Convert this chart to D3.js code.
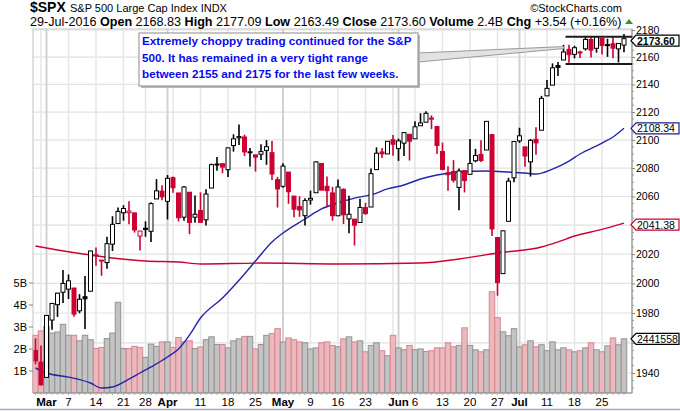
<!DOCTYPE html>
<html lang="en">
<head>
<meta charset="UTF-8">
<title>$SPX S&amp;P 500 Large Cap Index</title>
<script src="https://cdn.jsdelivr.net/npm/d3@7/dist/d3.min.js"></script>
<style>
  body { margin: 0; background: #fff; }
  svg { display: block; font-family: "Liberation Sans", Arial, sans-serif; }
</style>
</head>
<body>
<svg width="680" height="411"></svg>
<script>
// trading days on the chart
const dates = [
  "2016-02-26","2016-02-29",
  "2016-03-01","2016-03-02","2016-03-03","2016-03-04",
  "2016-03-07","2016-03-08","2016-03-09","2016-03-10","2016-03-11",
  "2016-03-14","2016-03-15","2016-03-16","2016-03-17","2016-03-18",
  "2016-03-21","2016-03-22","2016-03-23","2016-03-24",
  "2016-03-28","2016-03-29","2016-03-30","2016-03-31","2016-04-01",
  "2016-04-04","2016-04-05","2016-04-06","2016-04-07","2016-04-08",
  "2016-04-11","2016-04-12","2016-04-13","2016-04-14","2016-04-15",
  "2016-04-18","2016-04-19","2016-04-20","2016-04-21","2016-04-22",
  "2016-04-25","2016-04-26","2016-04-27","2016-04-28","2016-04-29",
  "2016-05-02","2016-05-03","2016-05-04","2016-05-05","2016-05-06",
  "2016-05-09","2016-05-10","2016-05-11","2016-05-12","2016-05-13",
  "2016-05-16","2016-05-17","2016-05-18","2016-05-19","2016-05-20",
  "2016-05-23","2016-05-24","2016-05-25","2016-05-26","2016-05-27",
  "2016-05-31","2016-06-01","2016-06-02","2016-06-03",
  "2016-06-06","2016-06-07","2016-06-08","2016-06-09","2016-06-10",
  "2016-06-13","2016-06-14","2016-06-15","2016-06-16","2016-06-17",
  "2016-06-20","2016-06-21","2016-06-22","2016-06-23","2016-06-24",
  "2016-06-27","2016-06-28","2016-06-29","2016-06-30","2016-07-01",
  "2016-07-05","2016-07-06","2016-07-07","2016-07-08",
  "2016-07-11","2016-07-12","2016-07-13","2016-07-14","2016-07-15",
  "2016-07-18","2016-07-19","2016-07-20","2016-07-21","2016-07-22",
  "2016-07-25","2016-07-26","2016-07-27","2016-07-28","2016-07-29"
];

const open = [
  1954.95,1947.13,
  1937.09,1975.25,1985.60,1994.01,
  1996.11,1996.88,1981.44,1990.97,1994.71,
  2019.27,2015.27,2014.24,2026.90,2041.16,
  2048.64,2048.64,2048.55,2032.48,
  2037.89,2035.75,2058.27,2063.77,2056.62,
  2073.19,2062.50,2045.56,2063.01,2045.54,
  2050.23,2043.72,2065.92,2082.89,2083.10,
  2078.83,2096.05,2101.52,2102.09,2091.49,
  2089.37,2089.84,2092.57,2090.93,2071.82,
  2067.17,2077.18,2060.30,2052.95,2046.61,
  2057.55,2062.63,2083.29,2067.17,2062.50,
  2046.53,2065.04,2044.38,2044.21,2041.88,
  2052.23,2052.65,2078.93,2091.44,2090.06,
  2100.13,2093.94,2097.71,2104.07,
  2100.83,2110.18,2112.71,2115.65,2109.57,
  2091.75,2076.65,2077.60,2066.36,2078.20,
  2075.58,2085.19,2089.75,2092.80,2103.81,
  2031.45,2006.67,2042.69,2073.17,2099.34,
  2095.05,2084.43,2100.42,2106.97,
  2131.72,2139.50,2153.81,2157.88,2165.71,
  2162.04,2163.79,2166.10,2172.91,2166.47,
  2173.71,2168.97,2169.81,2166.05,2168.83
];

const high = [
  1962.96,1958.27,
  1978.35,1986.51,1993.69,2009.13,
  2006.12,1996.88,1992.69,2005.08,2022.37,
  2024.57,2015.94,2032.02,2046.24,2052.36,
  2053.91,2056.60,2048.55,2036.04,
  2042.67,2055.91,2072.21,2067.92,2075.07,
  2074.02,2062.50,2067.33,2063.01,2060.63,
  2062.93,2065.05,2083.18,2087.84,2083.22,
  2094.66,2104.05,2111.05,2103.78,2094.32,
  2089.37,2096.87,2099.89,2099.30,2073.85,
  2083.42,2077.18,2060.30,2060.23,2058.79,
  2064.15,2084.87,2083.29,2073.99,2066.79,
  2071.88,2065.69,2060.61,2044.21,2058.35,
  2055.58,2079.67,2094.73,2094.30,2099.06,
  2103.48,2100.97,2105.26,2104.07,
  2113.36,2119.22,2120.55,2117.64,2109.57,
  2098.12,2081.30,2085.65,2079.62,2078.20,
  2100.66,2093.66,2099.71,2113.32,2103.81,
  2031.45,2036.09,2073.13,2098.94,2108.71,
  2095.05,2100.72,2109.08,2131.71,
  2143.16,2155.40,2156.45,2169.05,2169.05,
  2168.35,2164.63,2175.63,2174.56,2175.11,
  2173.71,2173.54,2174.98,2170.23,2177.09
];

const low = [
  1945.78,1931.81,
  1937.09,1968.80,1977.37,1986.77,
  1989.38,1977.43,1979.84,1969.25,1994.71,
  2012.05,2005.23,2010.04,2022.16,2041.16,
  2043.14,2040.57,2034.86,2022.49,
  2031.96,2028.31,2058.27,2057.46,2043.98,
  2062.57,2042.56,2043.09,2033.80,2041.69,
  2041.88,2039.74,2065.92,2078.13,2076.31,
  2073.65,2091.68,2096.32,2088.52,2081.20,
  2077.52,2085.80,2082.31,2071.62,2052.28,
  2066.11,2054.89,2045.55,2045.77,2039.74,
  2054.31,2062.63,2064.46,2053.13,2043.13,
  2046.53,2040.82,2034.49,2025.91,2041.88,
  2047.26,2052.65,2078.93,2087.08,2090.06,
  2088.66,2085.10,2088.59,2085.36,
  2100.83,2110.18,2112.71,2107.73,2089.96,
  2078.46,2064.10,2069.80,2050.37,2062.84,
  2075.58,2084.12,2084.36,2092.80,2032.57,
  1991.68,2006.67,2042.69,2070.00,2097.90,
  2080.86,2074.02,2089.39,2106.97,
  2131.72,2139.50,2146.21,2157.88,2155.79,
  2159.07,2159.39,2164.89,2159.75,2163.24,
  2161.95,2160.18,2159.07,2156.08,2163.49
];

const close = [
  1948.05,1932.23,
  1978.35,1986.45,1993.40,1999.99,
  2001.76,1979.26,1989.26,1989.57,2022.19,
  2019.64,2015.93,2027.22,2040.59,2049.58,
  2051.60,2049.80,2036.71,2035.94,
  2037.05,2055.01,2063.95,2059.74,2072.78,
  2066.13,2045.17,2066.66,2041.91,2047.60,
  2041.99,2061.72,2082.42,2082.78,2080.73,
  2094.34,2100.80,2102.40,2091.48,2091.58,
  2087.79,2091.70,2095.15,2075.81,2065.30,
  2081.43,2063.37,2051.12,2050.63,2057.14,
  2058.69,2084.39,2064.46,2064.11,2046.61,
  2066.66,2047.21,2047.63,2040.04,2052.32,
  2048.04,2076.06,2090.54,2090.10,2099.06,
  2096.95,2099.33,2105.26,2099.13,
  2109.41,2112.13,2119.12,2115.48,2096.07,
  2079.06,2075.32,2071.50,2077.99,2071.22,
  2083.25,2088.90,2085.45,2113.32,2037.41,
  2000.54,2036.09,2070.77,2098.86,2102.95,
  2088.55,2099.73,2097.90,2129.90,
  2137.16,2152.14,2152.43,2163.75,2161.74,
  2166.89,2163.78,2173.02,2165.17,2175.03,
  2168.48,2169.18,2166.58,2170.06,2173.60
];

// close of the day before the first bar (sets the first bar's colour)
const closeBefore = 1951.70;

// volume, billions of shares
const volume = [
  2.6,2.8,
  3.0,2.7,2.75,3.1,
  2.6,2.6,2.35,2.6,2.4,
  2.0,2.05,2.45,2.7,4.1,
  2.0,2.0,2.1,2.05,
  1.6,2.2,2.1,2.3,2.3,
  2.05,2.5,2.3,2.35,2.0,
  2.07,2.4,2.53,2.18,2.18,
  2.03,2.35,2.44,2.55,2.55,
  1.98,2.18,2.6,2.68,2.9,
  2.3,2.48,2.4,2.3,2.26,
  1.98,2.03,2.26,2.3,2.14,
  2.08,2.44,2.53,2.3,2.35,
  1.85,2.14,2.26,1.9,1.67,
  2.6,2.03,1.94,2.14,
  1.95,1.98,1.86,1.9,2.03,
  2.03,2.26,2.08,2.14,2.94,
  2.14,1.94,1.85,1.94,4.58,
  3.4,2.76,2.58,2.9,2.08,
  2.17,2.35,2.08,2.17,
  1.9,2.3,1.94,2.03,1.94,
  1.85,1.9,2.03,2.26,1.94,
  1.85,2.12,2.48,2.17,2.44
];
// last volume as printed in its tag
const lastVolumeLabel = "2441558";

// moving averages
const sma50 = [
  ["2016-02-26",1943.3],["2016-03-01",1940.0],["2016-03-07",1937.3],["2016-03-11",1933.4],
  ["2016-03-15",1930.1],["2016-03-17",1930.8],["2016-03-22",1936.0],["2016-03-24",1940.0],
  ["2016-03-29",1944.0],["2016-04-01",1950.6],["2016-04-05",1955.9],["2016-04-07",1965.2],
  ["2016-04-11",1976.6],["2016-04-15",1990.1],["2016-04-21",2006.4],["2016-04-25",2015.3],
  ["2016-04-28",2028.4],["2016-05-02",2034.6],["2016-05-06",2044.3],["2016-05-11",2051.3],
  ["2016-05-16",2055.5],["2016-05-19",2058.9],["2016-05-24",2061.1],["2016-05-27",2065.3],
  ["2016-06-02",2068.1],["2016-06-07",2072.3],["2016-06-10",2075.1],["2016-06-16",2077.2],
  ["2016-06-23",2077.9],["2016-06-29",2077.2],["2016-07-05",2076.5],["2016-07-07",2075.8],
  ["2016-07-12",2079.3],["2016-07-15",2085.0],["2016-07-19",2090.0],["2016-07-25",2097.8],
  ["2016-07-27",2102.1],["2016-07-29",2108.34]
];
const sma200 = [
  ["2016-02-26",2025.6],["2016-03-03",2022.9],["2016-03-11",2019.4],["2016-03-17",2017.4],
  ["2016-03-28",2015.3],["2016-04-05",2014.6],["2016-04-11",2013.3],["2016-04-26",2013.9],
  ["2016-05-16",2013.3],["2016-06-07",2013.9],["2016-06-16",2016.7],["2016-06-27",2020.8],
  ["2016-07-08",2024.9],["2016-07-13",2028.4],["2016-07-18",2032.5],["2016-07-21",2035.3],
  ["2016-07-26",2038.1],["2016-07-29",2041.38]
];

const priceTicks = [1940,1960,1980,2000,2020,2040,2060,2080,2100,2120,2140,2160,2180];
const volTicks = [1,2,3,4,5];
const xTicks = [
  ["2016-03-01","Mar"],["2016-03-07","7"],["2016-03-14","14"],["2016-03-21","21"],["2016-03-28","28"],
  ["2016-04-01","Apr"],["2016-04-11","11"],["2016-04-18","18"],["2016-04-25","25"],
  ["2016-05-02","May"],["2016-05-09","9"],["2016-05-16","16"],["2016-05-23","23"],
  ["2016-06-01","Jun"],["2016-06-06","6"],["2016-06-13","13"],["2016-06-20","20"],["2016-06-27","27"],
  ["2016-07-01","Jul"],["2016-07-11","11"],["2016-07-18","18"],["2016-07-25","25"]
];

// trading range drawn on the chart and where it starts
const rangeLevels = [2175, 2155];
const rangeStart = "2016-07-14";

const note = [
  "Extremely choppy trading continued for the S&P",
  "500. It has remained in a very tight range",
  "between 2155 and 2175 for the last few weeks."
];

const RED = "#cc0033", BLUE = "#2424a8";

const svg = d3.select("svg");
const L = 33, R = 632, T = 29, B = 393;

const x = d3.scaleBand().domain(dates).range([32.75, 626.75]).padding(0);
const cx = d => x(d) + x.bandwidth() / 2;
const y = d3.scaleLog().domain([1926.85, 2180.74]).range([B, T]);
const yv = d3.scaleLinear().domain([0, 5]).range([392.5, 282.5]);
const parse = d3.timeParse("%Y-%m-%d");

// gridlines
const grid = svg.append("g");
grid.selectAll("line.h").data(priceTicks).join("line")
  .attr("x1", L).attr("x2", R)
  .attr("y1", d => y(d)).attr("y2", d => y(d))
  .attr("stroke", "#e2e2e2").attr("stroke-width", 1.2);

const vlines = dates.map((d, i) => {
  if (i === 0) return null;
  const a = parse(dates[i - 1]), b = parse(d);
  const month = a.getMonth() !== b.getMonth();
  const week = +d3.timeMonday.floor(a) !== +d3.timeMonday.floor(b);
  return month || week ? { d, month } : null;
}).filter(Boolean);

grid.selectAll("line.v").data(vlines).join("line")
  .attr("x1", v => cx(v.d)).attr("x2", v => cx(v.d))
  .attr("y1", T).attr("y2", B)
  .attr("stroke", v => v.month ? "#d2d2d2" : "#e6e6e6")
  .attr("stroke-width", v => v.month ? 2 : 1.5);

// volume
const volUp = i => close[i] >= (i ? close[i - 1] : closeBefore);
svg.append("g").selectAll("rect").data(dates).join("rect")
  .attr("x", d => x(d))
  .attr("width", x.bandwidth())
  .attr("y", (d, i) => yv(volume[i]))
  .attr("height", (d, i) => yv(0) - yv(volume[i]))
  .attr("fill", (d, i) => volUp(i) ? "#c3c3c3" : "#eab9be")
  .attr("stroke", (d, i) => volUp(i) ? "#929292" : "#d8858f")
  .attr("stroke-width", 1);

// moving averages
const line = d3.line().x(p => cx(p[0])).y(p => y(p[1])).curve(d3.curveMonotoneX);
svg.append("path").attr("d", line(sma200)).attr("fill", "none")
  .attr("stroke", RED).attr("stroke-width", 1.4);
svg.append("path").attr("d", line(sma50)).attr("fill", "none")
  .attr("stroke", BLUE).attr("stroke-width", 1.4);

// candles
const candles = svg.append("g").selectAll("g").data(dates).join("g");
const cColor = i => volUp(i) ? "#000" : RED;
candles.append("line")
  .attr("x1", d => cx(d)).attr("x2", d => cx(d))
  .attr("y1", (d, i) => y(high[i])).attr("y2", (d, i) => y(low[i]))
  .attr("stroke", (d, i) => cColor(i)).attr("stroke-width", 1.6);
candles.append("rect")
  .attr("x", d => cx(d) - 2)
  .attr("width", 4)
  .attr("y", (d, i) => y(Math.max(open[i], close[i])))
  .attr("height", (d, i) => Math.max(1, Math.abs(y(open[i]) - y(close[i]))))
  .attr("fill", (d, i) => close[i] >= open[i] ? "#fff" : cColor(i))
  .attr("stroke", (d, i) => cColor(i)).attr("stroke-width", 1);

// frame
svg.append("rect").attr("x", L).attr("y", T).attr("width", R - L).attr("height", B - T)
  .attr("fill", "none").attr("stroke", "#c4c4c4");
svg.append("line").attr("x1", R).attr("x2", R).attr("y1", T).attr("y2", B)
  .attr("stroke", "#8a8a8a");
svg.append("line").attr("x1", L).attr("x2", R).attr("y1", B).attr("y2", B)
  .attr("stroke", "#8a8a8a");
svg.append("g").selectAll("line").data(dates).join("line")
  .attr("x1", d => cx(d)).attr("x2", d => cx(d))
  .attr("y1", B).attr("y2", B + 2).attr("stroke", "#b0b0b0");

// right price axis
const ya = svg.append("g").attr("transform", `translate(${R},0)`)
  .call(d3.axisRight(y).tickValues(priceTicks).tickSize(3).tickFormat(d3.format("d")));
ya.select(".domain").remove();
ya.selectAll("line").attr("stroke", "#888");
ya.selectAll("text").attr("font-size", 10.5).attr("font-family", null).attr("fill", "#000").attr("x", 4);
const minor = d3.range(1930, 2181, 5).filter(v => v % 20 !== 0);
svg.append("g").selectAll("line").data(minor).join("line")
  .attr("x1", R).attr("x2", R + 2).attr("y1", d => y(d)).attr("y2", d => y(d))
  .attr("stroke", "#999");

// left volume axis
const va = svg.append("g").attr("transform", `translate(${L},0)`)
  .call(d3.axisLeft(yv).tickValues(volTicks).tickSize(4).tickFormat(d => d + "B"));
va.select(".domain").remove();
va.selectAll("line").attr("stroke", "#888");
va.selectAll("text").attr("font-size", 11).attr("font-family", null).attr("fill", "#000").attr("x", -6);

// x axis labels
svg.append("g").selectAll("text").data(xTicks).join("text")
  .attr("x", t => cx(t[0])).attr("y", 406)
  .attr("text-anchor", "middle").attr("font-size", 11.5)
  .attr("font-weight", t => isNaN(+t[1]) ? "bold" : "normal")
  .text(t => t[1]);
svg.append("line").attr("x1", 0).attr("x2", 680).attr("y1", 409.5).attr("y2", 409.5)
  .attr("stroke", "#a9a5c6").attr("stroke-width", 1.5);

// trading range lines
svg.append("g").selectAll("line").data(rangeLevels).join("line")
  .attr("x1", cx(rangeStart) + 2).attr("x2", R)
  .attr("y1", d => y(d)).attr("y2", d => y(d))
  .attr("stroke", "#1a1a1a").attr("stroke-width", 2);

// note box with pointer
const bx = 139, by = 33, bw = 279, bh = 53;
const tipX = cx(rangeStart), tipY = y(2167);
svg.append("path")
  .attr("d", `M${bx + bw},${by + 20}L${tipX},${tipY - 1}L${tipX},${tipY + 1}L${bx + bw},${by + 29}Z`)
  .attr("fill", "#e2e2e2").attr("stroke", "#9a9a9a").attr("stroke-width", 1);
svg.append("rect").attr("x", bx + 2).attr("y", by + 2).attr("width", bw).attr("height", bh)
  .attr("fill", "#b8b8b8");
svg.append("rect").attr("x", bx).attr("y", by).attr("width", bw).attr("height", bh)
  .attr("fill", "#fff").attr("stroke", "#8c8c8c");
svg.append("g").selectAll("text").data(note).join("text")
  .attr("x", bx + 3).attr("y", (d, i) => by + 12 + i * 16.5)
  .attr("font-size", 11.7).attr("font-weight", "bold").attr("fill", "#0a0af0")
  .text(d => d);

// value tags on the right
const tagYs = [];
function tag(yc, label, stroke, bold) {
  tagYs.push(yc);
  const g = svg.append("g");
  g.append("path")
    .attr("d", `M${R - 1},${yc}L${R + 4},${yc - 5.5}L679,${yc - 5.5}L679,${yc + 5.5}L${R + 4},${yc + 5.5}Z`)
    .attr("fill", "#fff").attr("stroke", stroke).attr("stroke-width", 1.2);
  g.append("text").attr("x", R + 5).attr("y", yc + 4)
    .attr("font-size", 10.5).attr("font-weight", bold ? "bold" : "normal")
    .text(label);
}
const last = dates.length - 1;
const m50 = sma50[sma50.length - 1][1], m200 = sma200[sma200.length - 1][1];
tag(y(close[last]) + 2, close[last].toFixed(2), "#000", true);
tag(y(m50), m50.toFixed(2), "#1c1c8c", false);
tag(y(m200) + 1.5, m200.toFixed(2), RED, false);
tag(yv(volume[last]), lastVolumeLabel, "#000", false);

// price labels hidden behind a tag are dropped, as on the original
ya.selectAll(".tick").filter(d => tagYs.some(t => Math.abs(t - y(d)) < 9)).select("text").remove();

// header
svg.append("text").attr("x", 30).attr("y", 12).attr("font-size", 14).attr("font-weight", "bold").text("$SPX");
svg.append("text").attr("x", 70).attr("y", 12).attr("font-size", 11).text("S&P 500 Large Cap Index INDX");
svg.append("text").attr("x", 622).attr("y", 12).attr("font-size", 11).attr("text-anchor", "end").text("©StockCharts.com");

const chg = close[last] - close[last - 1];
const info = [
  ["29-Jul-2016 ", false],
  ["Open ", true], [open[last].toFixed(2) + " ", false],
  ["High ", true], [high[last].toFixed(2) + " ", false],
  ["Low ", true], [low[last].toFixed(2) + " ", false],
  ["Close ", true], [close[last].toFixed(2) + " ", false],
  ["Volume ", true], [volume[last].toFixed(1) + "B ", false],
  ["Chg ", true], [`+${chg.toFixed(2)} (+${(chg / close[last - 1] * 100).toFixed(2)}%)`, false]
];
const hdr = svg.append("text").attr("x", 30).attr("y", 25.5).attr("font-size", 11).attr("xml:space", "preserve");
hdr.selectAll("tspan").data(info).join("tspan")
  .attr("font-weight", d => d[1] ? "bold" : "normal")
  .text(d => d[0]);
const w = hdr.node().getComputedTextLength();
hdr.attr("font-size", 11 * 592 / w);
svg.append("path").attr("d", "M625,24L629,19L633,24Z").attr("fill", "#2a9a2a");
</script>
</body>
</html>
